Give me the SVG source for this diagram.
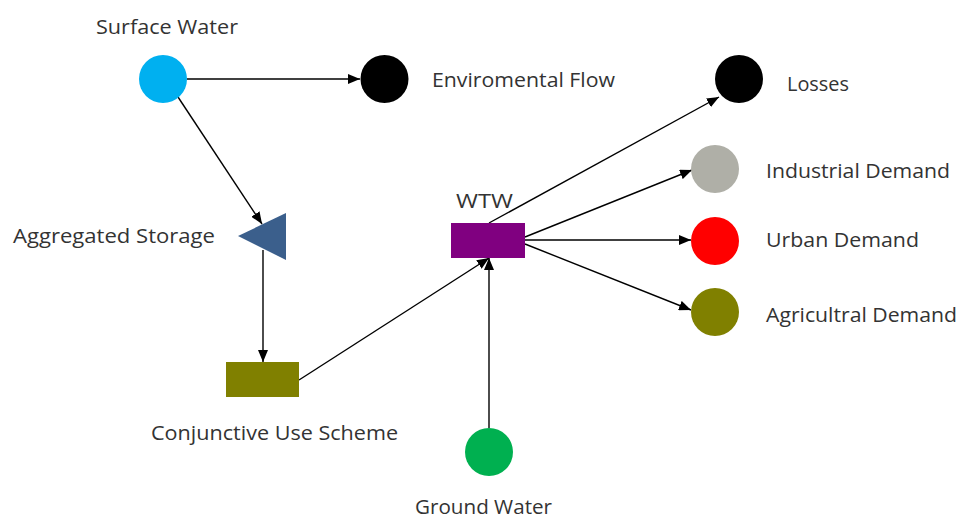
<svg xmlns="http://www.w3.org/2000/svg" width="965" height="521" viewBox="0 0 965 521">
<style>
text { font-family: "Open Sans", "Liberation Sans", sans-serif; font-size: 20px; fill: #333333; }
.c { stroke: #000000; stroke-width: 1.4; fill: none; marker-end: url(#ah); }
</style>
<defs>
<marker id="ah" viewBox="0 0 12 10" refX="12" refY="5" markerWidth="12" markerHeight="10" markerUnits="userSpaceOnUse" orient="auto">
<path d="M0,0 L12,5 L0,10 Z" fill="#000000"/>
</marker>
</defs>
<rect width="965" height="521" fill="#ffffff"/>
<g id="connectors">
<line class="c" x1="187" y1="79" x2="360" y2="79"/>
<line class="c" x1="178" y1="97" x2="262" y2="224"/>
<line class="c" x1="263" y1="250" x2="263" y2="362"/>
<line class="c" x1="299" y1="380" x2="489" y2="258"/>
<line class="c" x1="489" y1="428" x2="489" y2="258"/>
<line class="c" x1="489" y1="223" x2="719" y2="97"/>
<line class="c" x1="525" y1="237" x2="692" y2="170"/>
<line class="c" x1="525" y1="240" x2="691" y2="240"/>
<line class="c" x1="525" y1="244" x2="691" y2="310"/>
</g>
<g id="surface-water">
<circle cx="163" cy="79" r="24" fill="#00B0F0"/>
<text x="96" y="34" textLength="142" lengthAdjust="spacingAndGlyphs">Surface Water</text>
</g>
<g id="environmental-flow">
<circle cx="384.5" cy="79" r="24" fill="#000000"/>
<text x="432" y="87" textLength="183" lengthAdjust="spacingAndGlyphs">Enviromental Flow</text>
</g>
<g id="aggregated-storage">
<polygon points="238,236 286,213 286,260" fill="#3B5F8C"/>
<text x="13" y="243" textLength="202" lengthAdjust="spacingAndGlyphs">Aggregated Storage</text>
</g>
<g id="conjunctive-use-scheme">
<rect x="226" y="362" width="73" height="35" fill="#808000"/>
<text x="151" y="440" textLength="247" lengthAdjust="spacingAndGlyphs">Conjunctive Use Scheme</text>
</g>
<g id="wtw">
<rect x="451" y="223" width="74" height="35" fill="#800080"/>
<text x="456" y="208" textLength="57" lengthAdjust="spacingAndGlyphs">WTW</text>
</g>
<g id="ground-water">
<circle cx="489" cy="452" r="24" fill="#00B050"/>
<text x="415" y="514" textLength="137" lengthAdjust="spacingAndGlyphs">Ground Water</text>
</g>
<g id="losses">
<circle cx="739" cy="79" r="24" fill="#000000"/>
<text x="787" y="91" textLength="62" lengthAdjust="spacingAndGlyphs">Losses</text>
</g>
<g id="industrial-demand">
<circle cx="715" cy="169" r="24" fill="#AFAFA7"/>
<text x="766" y="178" textLength="184" lengthAdjust="spacingAndGlyphs">Industrial Demand</text>
</g>
<g id="urban-demand">
<circle cx="715" cy="241" r="24" fill="#FF0000"/>
<text x="766" y="247" textLength="153" lengthAdjust="spacingAndGlyphs">Urban Demand</text>
</g>
<g id="agricultural-demand">
<circle cx="715" cy="312" r="24" fill="#808000"/>
<text x="766" y="322" textLength="191" lengthAdjust="spacingAndGlyphs">Agricultral Demand</text>
</g>
</svg>
